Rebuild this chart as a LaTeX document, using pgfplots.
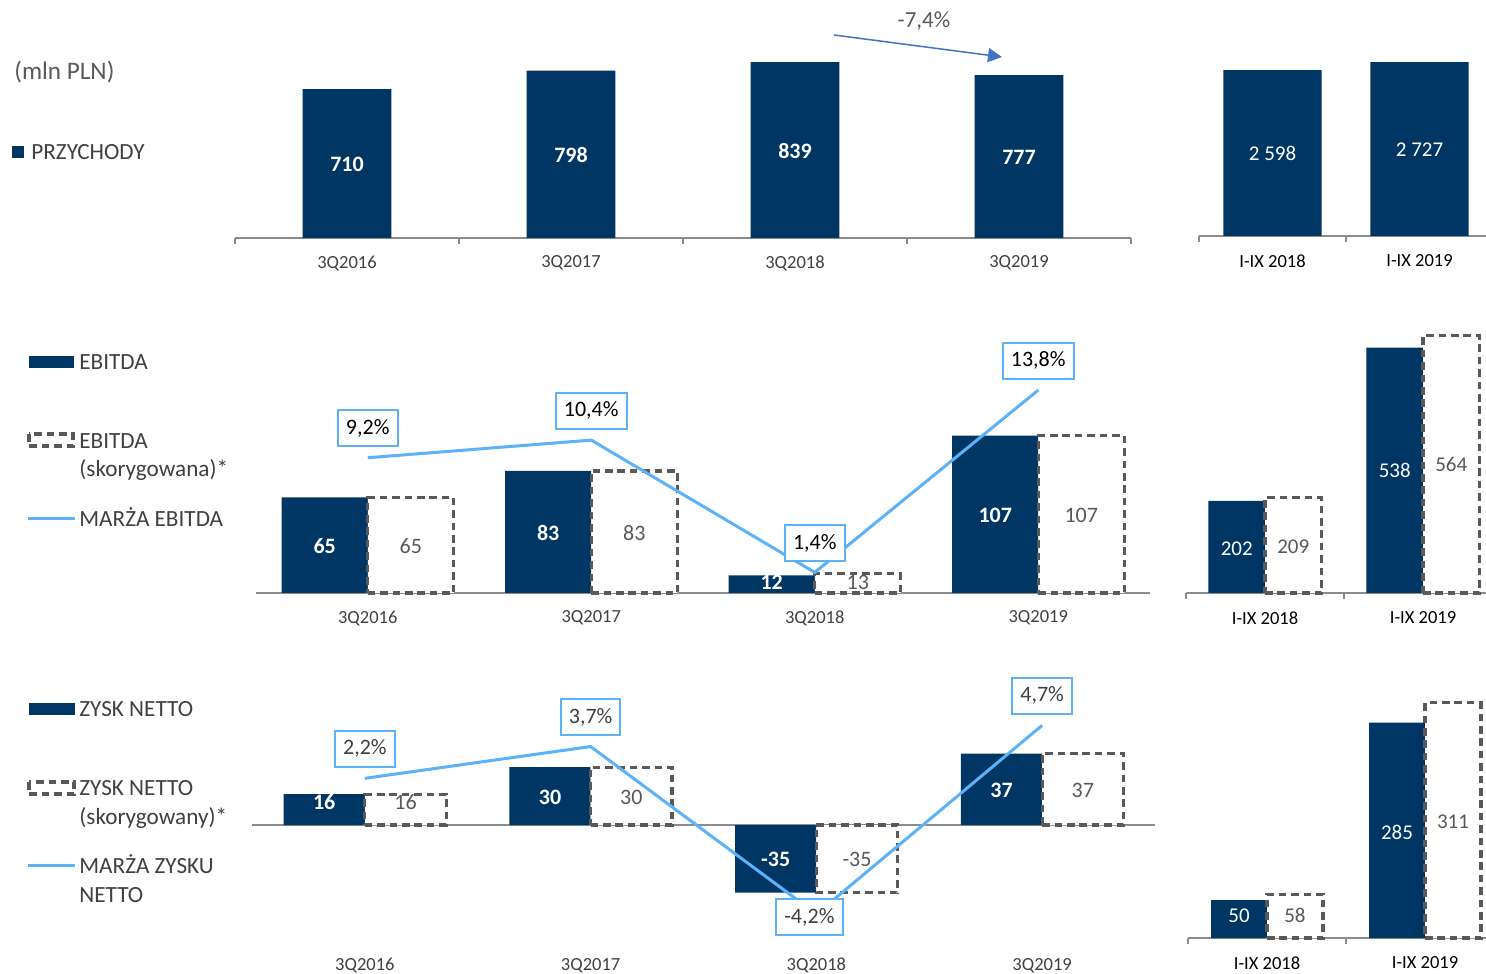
\documentclass[border=0pt]{standalone}
\usepackage{fontspec}
\setmainfont{Carlito}
\usepackage{pgfplots}
\pgfplotsset{compat=1.18}
\usetikzlibrary{arrows.meta}

\definecolor{navy}{RGB}{0,54,99}
\definecolor{lineblue}{RGB}{92,178,248}
\definecolor{dashgray}{RGB}{89,89,89}
\definecolor{axgray}{RGB}{140,140,140}
\definecolor{txtgray}{RGB}{64,64,64}
\definecolor{arrowblue}{RGB}{68,114,196}

\newcommand{\fs}[1]{\fontsize{#1}{#1}\selectfont}

\pgfplotsset{
  panel/.style={
    scale only axis, clip=false, enlargelimits=false,
    axis y line=none, axis x line*=bottom,
    axis line style={draw=axgray, line width=1pt},
    xmin=0, ymin=0, anchor=south west,
    major tick length=0pt, minor tick length=3pt, tick align=outside,
    every minor tick/.append style={axgray, line width=0.6pt},
    xticklabel style={anchor=center, yshift=-12.5pt, font=\fs{9.25}, text=txtgray},
  },
  darkbar/.style={ybar, fill=navy, draw=none},
  adjbar/.style={ybar, fill=white, draw=dashgray, line width=1.6pt, dash pattern=on 3.8pt off 2.4pt},
  vlabel/.style={draw=none, no markers, nodes near coords, point meta=explicit symbolic,
    every node near coord/.style={anchor=center, inner sep=0pt, #1}},
  margin/.style={lineblue, line width=1.5pt, no markers},
  mlabel/.style={draw=none, no markers, nodes near coords, point meta=explicit symbolic,
    every node near coord/.style={draw=lineblue, line width=1pt, fill=white, solid,
      inner xsep=4pt, inner ysep=0pt, minimum height=18pt, font=\fs{11}, #1}},
}

\begin{document}
\begin{tikzpicture}
\path[use as bounding box] (0,0) rectangle (743pt,486.5pt);

% ---- PRZYCHODY, quarters
\begin{axis}[panel, at={(117.5pt,367.5pt)}, width=448pt, height=104.85pt,
  xmax=4, ymax=1000,
  xtick={0.5,1.5,2.5,3.5}, xticklabels={3Q2016,3Q2017,3Q2018,3Q2019},
  minor xtick={0,1,2,3,4}]
\addplot[darkbar, bar width=0.397, bar shift=0] coordinates {(0.5,710) (1.5,798) (2.5,839) (3.5,777)};
\addplot[vlabel={text=white, font=\bfseries\fs{11}}] coordinates {(0.5,352)[710] (1.5,396)[798] (2.5,416)[839] (3.5,385)[777]};
\end{axis}

% ---- PRZYCHODY, I-IX
\begin{axis}[panel, at={(599.5pt,368.5pt)}, width=143.5pt, height=95.7pt,
  xmax=1.9524, ymax=3000,
  xtick={0.5,1.5}, xticklabels={I-IX 2018,I-IX 2019}, minor xtick={0,1},
  xticklabel style={text=black}]
\addplot[darkbar, bar width=0.667, bar shift=0] coordinates {(0.5,2598) (1.5,2727)};
\addplot[vlabel={text=white, font=\fs{10.5}}] coordinates {(0.5,1290)[2 598] (1.5,1355)[2 727]};
\end{axis}

% ---- EBITDA, quarters
\begin{axis}[panel, at={(128pt,190pt)}, width=447pt, height=110.25pt,
  xmax=4, ymax=150,
  xtick={0.5,1.5,2.5,3.5}, xticklabels={3Q2016,3Q2017,3Q2018,3Q2019}]
\addplot[darkbar, bar width=0.385, bar shift=-0.1925] coordinates {(0.5,65) (1.5,83) (2.5,12) (3.5,107)};
\addplot[adjbar, bar width=0.385, bar shift=0.1925] coordinates {(0.5,65) (1.5,83) (2.5,13) (3.5,107)};
\addplot[vlabel={text=white, font=\bfseries\fs{11}}] coordinates {(0.3075,31.8)[65] (1.3075,40.8)[83] (2.3075,7)[12] (3.3075,52.8)[107]};
\addplot[vlabel={text=dashgray, font=\fs{11}}] coordinates {(0.6925,31.8)[65] (1.6925,40.8)[83] (2.6925,7)[13] (3.6925,52.8)[107]};
\end{axis}
\begin{axis}[panel, hide axis, at={(128pt,190pt)}, width=447pt, height=110.25pt,
  xmax=4, ymax=15]
\addplot[margin] coordinates {(0.5,9.2) (1.5,10.4) (2.5,1.4) (3.5,13.8)};
\addplot[mlabel={anchor=south, yshift=5.25pt, text=black}] coordinates {(0.5,9.2)[9,2\%] (1.5,10.4)[10,4\%] (2.5,1.4)[1,4\%] (3.5,13.8)[13,8\%]};
\end{axis}

% ---- EBITDA, I-IX
\begin{axis}[panel, at={(593pt,190pt)}, width=150pt, height=136.8pt,
  xmax=1.8987, ymax=600,
  xtick={0.5,1.5}, xticklabels={I-IX 2018,I-IX 2019}, minor xtick={0,1},
  xticklabel style={text=black}]
\addplot[darkbar, bar width=0.358, bar shift=-0.179] coordinates {(0.5,202) (1.5,538)};
\addplot[adjbar, bar width=0.358, bar shift=0.179] coordinates {(0.5,209) (1.5,564)};
\addplot[vlabel={text=white, font=\fs{10.5}}] coordinates {(0.321,97)[202] (1.321,268)[538]};
\addplot[vlabel={text=dashgray, font=\fs{10.5}}] coordinates {(0.679,101)[209] (1.679,281)[564]};
\end{axis}

% ---- ZYSK NETTO, quarters
\begin{axis}[panel, at={(126pt,16.1pt)}, width=451.5pt, height=115.8pt,
  xmax=4, ymin=-60, ymax=60, axis line style={draw=none},
  xtick={0.5,1.5,2.5,3.5}, xticklabels={3Q2016,3Q2017,3Q2018,3Q2019}]
\draw[axgray, line width=1pt] (axis cs:0,0) -- (axis cs:4,0);
\addplot[darkbar, bar width=0.36, bar shift=-0.18] coordinates {(0.5,16) (1.5,30) (2.5,-35) (3.5,37)};
\addplot[adjbar, bar width=0.36, bar shift=0.18] coordinates {(0.5,16) (1.5,30) (2.5,-35) (3.5,37)};
\addplot[vlabel={text=white, font=\bfseries\fs{11}}] coordinates {(0.32,12)[16] (1.32,14.5)[30] (2.32,-18)[-35] (3.32,18)[37]};
\addplot[vlabel={text=dashgray, font=\fs{11}}] coordinates {(0.68,12)[16] (1.68,14.5)[30] (2.68,-18)[-35] (3.68,18)[37]};
\end{axis}
\begin{axis}[panel, hide axis, at={(126pt,16.1pt)}, width=451.5pt, height=115.8pt,
  xmax=4, ymin=-5.4623, ymax=5.4623]
\addplot[margin] coordinates {(0.5,2.2) (1.5,3.7) (2.5,-4.2) (3.5,4.7)};
\addplot[mlabel={anchor=south, yshift=5.25pt, text=txtgray}] coordinates {(0.5,2.2)[2,2\%] (1.5,3.7)[3,7\%] (3.5,4.7)[4,7\%]};
\addplot[mlabel={anchor=center, xshift=-3.5pt, yshift=-1.5pt, text=txtgray}] coordinates {(2.5,-4.2)[-4,2\%]};
\end{axis}

% ---- ZYSK NETTO, I-IX
\begin{axis}[panel, at={(594pt,17.5pt)}, width=149pt, height=151.2pt,
  xmax=1.886, ymax=400,
  xtick={0.5,1.5}, xticklabels={I-IX 2018,I-IX 2019}, minor xtick={0,1},
  xticklabel style={text=black}]
\addplot[darkbar, bar width=0.354, bar shift=-0.177] coordinates {(0.5,50) (1.5,285)};
\addplot[adjbar, bar width=0.354, bar shift=0.177] coordinates {(0.5,58) (1.5,311)};
\addplot[vlabel={text=white, font=\fs{10.5}}] coordinates {(0.323,30)[50] (1.323,140)[285]};
\addplot[vlabel={text=dashgray, font=\fs{10.5}}] coordinates {(0.677,30)[58] (1.677,153.5)[311]};
\end{axis}

% ---- legend texts and annotation, in pixel coordinates
\begin{scope}[x=0.5pt, y=-0.5pt, yshift=486.5pt]
  \tikzset{lg/.style={anchor=base west, inner sep=0pt, font=\fs{11.6}, text=txtgray}}
  \node[anchor=base west, inner sep=0pt, font=\fs{12.6}, text=dashgray] at (14,80) {(mln PLN)};
  \fill[navy] (12,146) rectangle (24,158);
  \node[lg] at (31,160) {PRZYCHODY};

  \fill[navy] (29,356) rectangle (74,368);
  \node[lg] at (79,370) {EBITDA};
  \draw[dashgray, line width=1.6pt, dash pattern=on 3.8pt off 2.4pt] (29,434) rectangle (73,446);
  \node[lg] at (79,449) {EBITDA};
  \node[lg] at (79,477) {(skorygowana)*};
  \draw[lineblue, line width=1.5pt] (28,519) -- (75,519);
  \node[lg] at (79,527) {MARŻA EBITDA};

  \fill[navy] (29,703) rectangle (75,715);
  \node[lg] at (79,717) {ZYSK NETTO};
  \draw[dashgray, line width=1.6pt, dash pattern=on 3.8pt off 2.4pt] (29,782) rectangle (74,794);
  \node[lg] at (79,796) {ZYSK NETTO};
  \node[lg] at (79,825) {(skorygowany)*};
  \draw[lineblue, line width=1.5pt] (28,866) -- (75,866);
  \node[lg] at (79,874) {MARŻA ZYSKU};
  \node[lg] at (79,903) {NETTO};

  \draw[arrowblue, line width=0.75pt, -{Triangle[length=7pt, width=7pt]}] (834,35) -- (1002,57);
  \node[font=\fs{11.5}, text=dashgray] at (924,21) {-7,4\%};
\end{scope}
\end{tikzpicture}
\end{document}
